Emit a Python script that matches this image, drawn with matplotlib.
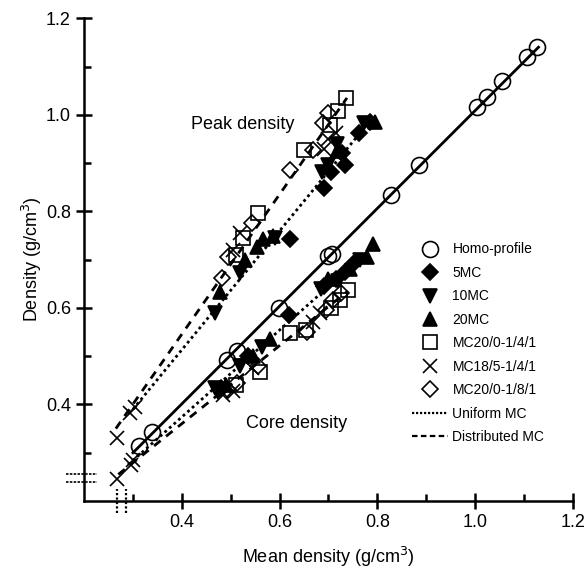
import numpy as np
import matplotlib
matplotlib.use("Agg")
import matplotlib.pyplot as plt
from matplotlib.lines import Line2D

plt.rcParams['font.family'] = ['Liberation Sans', 'DejaVu Sans']

## homo-profile (cercles + droite pleine)
homo_x = [0.312, 0.339, 0.492, 0.512, 0.598, 0.700, 0.707, 0.828, 0.885, 1.005, 1.024, 1.055, 1.106, 1.126]
homo_y = [0.313, 0.344, 0.493, 0.511, 0.600, 0.708, 0.712, 0.834, 0.896, 1.016, 1.037, 1.070, 1.119, 1.140]

## peak density
peak_5mc_x = [0.622, 0.692, 0.706, 0.734, 0.728, 0.762, 0.785]
peak_5mc_y = [0.742, 0.848, 0.882, 0.897, 0.920, 0.962, 0.985]
peak_10mc_x = [0.467, 0.520, 0.590, 0.686, 0.700, 0.717, 0.773]
peak_10mc_y = [0.590, 0.672, 0.745, 0.882, 0.895, 0.940, 0.982]
peak_20mc_x = [0.478, 0.530, 0.553, 0.566, 0.586, 0.717, 0.795]
peak_20mc_y = [0.632, 0.700, 0.727, 0.742, 0.748, 0.925, 0.985]
peak_sq_x = [0.510, 0.525, 0.556, 0.651, 0.703, 0.719, 0.737]
peak_sq_y = [0.710, 0.745, 0.797, 0.927, 0.978, 1.008, 1.034]
peak_x_x = [0.267, 0.294, 0.305, 0.505, 0.519, 0.690, 0.700, 0.716]
peak_x_y = [0.331, 0.383, 0.395, 0.720, 0.755, 0.930, 0.950, 0.962]
peak_di_x = [0.482, 0.494, 0.543, 0.621, 0.668, 0.689, 0.699]
peak_di_y = [0.662, 0.706, 0.776, 0.886, 0.927, 0.982, 1.003]

## core density
core_5mc_x = [0.480, 0.535, 0.620, 0.690, 0.715, 0.735, 0.750]
core_5mc_y = [0.435, 0.500, 0.585, 0.645, 0.660, 0.675, 0.690]
core_10mc_x = [0.468, 0.475, 0.520, 0.565, 0.685, 0.720, 0.765]
core_10mc_y = [0.435, 0.425, 0.480, 0.520, 0.640, 0.655, 0.700]
core_20mc_x = [0.490, 0.545, 0.580, 0.700, 0.745, 0.780, 0.792]
core_20mc_y = [0.440, 0.500, 0.535, 0.660, 0.680, 0.705, 0.733]
core_sq_x = [0.510, 0.560, 0.621, 0.655, 0.705, 0.723, 0.740]
core_sq_y = [0.440, 0.468, 0.548, 0.555, 0.600, 0.617, 0.637]
core_x_x = [0.267, 0.295, 0.300, 0.485, 0.505, 0.543, 0.668, 0.682]
core_x_y = [0.245, 0.275, 0.285, 0.420, 0.427, 0.476, 0.571, 0.589]
core_di_x = [0.495, 0.512, 0.555, 0.656, 0.696, 0.710, 0.725]
core_di_y = [0.430, 0.445, 0.480, 0.551, 0.596, 0.617, 0.630]

## droites (extrémités)
homo_line_x = [0.300, 1.130]
homo_line_y = [0.300, 1.140]
peak_unif_x = [0.300, 0.775]
peak_unif_y = [0.390, 0.975]
peak_dist_x = [0.265, 0.738]
peak_dist_y = [0.350, 1.035]
core_unif_x = [0.290, 0.790]
core_unif_y = [0.275, 0.725]
core_dist_x = [0.270, 0.740]
core_dist_y = [0.255, 0.635]

## petits repères sur les axes
stub_y = [0.255, 0.239]
stub_x = [0.267, 0.285]

fig = plt.figure(figsize=(5.88, 5.70), dpi=100)
ax = fig.add_axes([0.143, 0.121, 0.831, 0.847])

ax.plot(homo_line_x, homo_line_y, '-', color='black', lw=2.0)
ax.plot(peak_unif_x, peak_unif_y, color='black', lw=2.0, ls=(0, (1, 1.2)))
ax.plot(core_unif_x, core_unif_y, color='black', lw=2.0, ls=(0, (1, 1.2)))
ax.plot(peak_dist_x, peak_dist_y, color='black', lw=2.0, ls=(0, (3, 2.5)))
ax.plot(core_dist_x, core_dist_y, color='black', lw=2.0, ls=(0, (3, 2.5)))

styles = [
    ('o', 'none', 11.5, 'Homo-profile'),
    ('D', 'black', 8, '5MC'),
    ('v', 'black', 10, '10MC'),
    ('^', 'black', 10, '20MC'),
    ('s', 'none', 10, 'MC20/0-1/4/1'),
    ('x', 'black', 10, 'MC18/5-1/4/1'),
    ('D', 'none', 8, 'MC20/0-1/8/1'),
]
series = [
    [(homo_x, homo_y)],
    [(peak_5mc_x, peak_5mc_y), (core_5mc_x, core_5mc_y)],
    [(peak_10mc_x, peak_10mc_y), (core_10mc_x, core_10mc_y)],
    [(peak_20mc_x, peak_20mc_y), (core_20mc_x, core_20mc_y)],
    [(peak_sq_x, peak_sq_y), (core_sq_x, core_sq_y)],
    [(peak_x_x, peak_x_y), (core_x_x, core_x_y)],
    [(peak_di_x, peak_di_y), (core_di_x, core_di_y)],
]
handles = []
for (m, fc, ms, lab), data in zip(styles, series):
    for xs, ys in data:
        ax.plot(xs, ys, ls='none', marker=m, ms=ms, mfc=fc, mec='black', mew=1.2)
    handles.append(Line2D([], [], ls='none', marker=m, ms=ms, mfc=fc, mec='black', mew=1.2, label=lab))
handles.append(Line2D([], [], color='black', lw=1.6, ls=(0, (1, 0.8)), label='Uniform MC'))
handles.append(Line2D([], [], color='black', lw=1.6, ls=(0, (2.5, 1.5)), label='Distributed MC'))

## repères hors des axes
for v in stub_y:
    ax.plot([0.163, 0.226], [v, v], color='black', lw=1.2, ls=(0, (1.5, 0.8)), clip_on=False)
for v in stub_x:
    ax.plot([v, v], [0.175, 0.225], color='black', lw=1.6, ls=(0, (1, 1)), clip_on=False)

ax.text(0.418, 0.979, 'Peak density', fontsize=13, va='center')
ax.text(0.531, 0.36, 'Core density', fontsize=13, va='center')

leg = ax.legend(handles=handles, loc='upper left', bbox_to_anchor=(0.66, 0.547),
                frameon=False, fontsize=10, handlelength=2.6, handletextpad=0.3,
                labelspacing=0.68, borderaxespad=0)

ax.set_xlim(0.2, 1.2)
ax.set_ylim(0.2, 1.2)
ax.set_xticks([0.4, 0.6, 0.8, 1.0, 1.2])
ax.set_xticks(np.arange(0.3, 1.2, 0.1), minor=True)
ax.set_yticks([0.4, 0.6, 0.8, 1.0, 1.2])
ax.set_yticks(np.arange(0.3, 1.2, 0.1), minor=True)
ax.spines['top'].set_visible(False)
ax.spines['right'].set_visible(False)
ax.spines['left'].set_linewidth(1.8)
ax.spines['bottom'].set_linewidth(1.8)
ax.tick_params(which='major', direction='inout', length=12, width=1.8, labelsize=13)
ax.tick_params(which='minor', direction='in', length=5, width=1.8)
ax.set_xlabel('Mean density (g/cm$^3$)', fontsize=13, labelpad=10)
ax.set_ylabel('Density (g/cm$^3$)', fontsize=13, labelpad=1)

fig.savefig('out.png', dpi=100)
